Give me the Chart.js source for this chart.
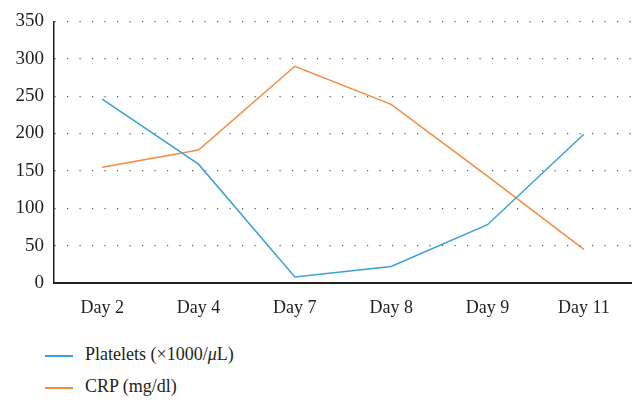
<!DOCTYPE html>
<html>
<head>
<meta charset="utf-8">
<style>
  body { margin: 0; background: #fff; width: 632px; height: 402px; overflow: hidden; font-family: "Liberation Serif", serif; }
  #wrap { position: relative; width: 632px; height: 325px; }
  .legend { position: absolute; left: 45px; font-size: 18px; color: #231f20; line-height: 22px; }
  .legend span { display: inline-block; width: 28px; height: 2px; vertical-align: middle; margin-right: 12px; }
</style>
</head>
<body>
<div id="wrap"><canvas id="labChart" width="632" height="325"></canvas></div>
<div class="legend" style="top:343px"><span style="background:#3aa0d9"></span>Platelets (×1000/<i>μ</i>L)</div>
<div class="legend" style="top:375px"><span style="background:#f68b3f"></span>CRP (mg/dl)</div>
<script src="https://cdn.jsdelivr.net/npm/chart.js"></script>
<script>
    const days = ['Day 2', 'Day 4', 'Day 7', 'Day 8', 'Day 9', 'Day 11'];
    const platelets = [246, 159, 8, 22, 78, 199];
    const crp = [155, 178, 290, 239, 143, 45];
    const yTicks = [0, 50, 100, 150, 200, 250, 300, 350];

    const ctx = document.getElementById('labChart').getContext('2d');

    new Chart(ctx, {
        type: 'line',
        data: {
            labels: days,
            datasets: [
                {
                    label: 'Platelets (×1000/μL)',
                    data: platelets,
                    borderColor: '#3aa0d9',
                    borderWidth: 1.5,
                    pointRadius: 0,
                    fill: false,
                    tension: 0
                },
                {
                    label: 'CRP (mg/dl)',
                    data: crp,
                    borderColor: '#f68b3f',
                    borderWidth: 1.5,
                    pointRadius: 0,
                    fill: false,
                    tension: 0
                }
            ]
        },
        options: {
            responsive: false,
            animation: false,
            layout: { padding: { top: 17, right: 0, left: 0, bottom: 0 } },
            plugins: {
                legend: { display: false },
                tooltip: { enabled: false }
            },
            scales: {
                x: {
                    offset: true,
                    grid: { display: false },
                    border: { display: true, color: '#231f20', width: 2 },
                    ticks: {
                        color: '#231f20',
                        font: { family: 'Liberation Serif', size: 18 },
                        padding: 6
                    },
                    afterFit: (scale) => { scale.height = 42; }
                },
                y: {
                    min: 0,
                    max: 350,
                    afterBuildTicks: (scale) => { scale.ticks = yTicks.map(v => ({ value: v })); },
                    grid: { color: '#58595b', lineWidth: 1.2, drawTicks: false },
                    border: { display: true, color: '#231f20', width: 1.5, dash: [1.2, 11.3] },
                    ticks: {
                        color: '#231f20',
                        font: { family: 'Liberation Serif', size: 19 },
                        padding: 10
                    },
                    afterFit: (scale) => { scale.width = 54; }
                }
            }
        }
    });
</script>
</body>
</html>
